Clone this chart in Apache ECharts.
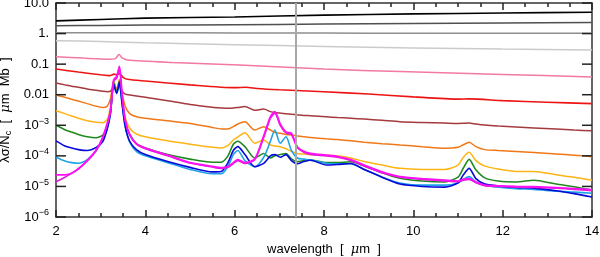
<!DOCTYPE html>
<html><head><meta charset="utf-8">
<script src="https://cdn.jsdelivr.net/npm/echarts@6/dist/echarts.min.js"></script>
<style>html,body{margin:0;padding:0;background:#fff}#c{width:600px;height:257px}</style>
</head><body><div id="c"></div>
<script>
// ---- tick labels / tick positions ----
const xTickValues = [2, 4, 6, 8, 10, 12, 14];
const xMinorTickValues = [2.5, 3, 3.5, 4.5, 5, 5.5, 6.5, 7, 7.5, 8.5, 9, 9.5, 10.5, 11, 11.5, 12.5, 13, 13.5];
const yTickValues = [1e-6, 1e-5, 1e-4, 1e-3, 1e-2, 1e-1, 1, 10];
const yTickExponents = [-6, -5, -4, -3, -2, -1, 0, 1];
const yTickLabels = ['10{s|−6}', '10{s|−5}', '10{s|−4}', '10{s|−3}', '0.01', '0.1', '1.', '10.0'];
const xAxisTitle = 'wavelength  [  {mu|μ}m  ]';
const yAxisTitle = 'λσ/N{sub|c}  [  {mu|μ}m  Mb  ]';
const markerWavelength = 7.37;

// ---- top (smooth) curves ----
const wlTop = [2, 3, 4, 6, 8, 10, 12, 14];
const blackVals = [2.6, 2.9, 3.2, 3.5, 4.0, 4.4, 4.7, 5.0];
const dimgrayVals = [1.8, 1.85, 1.9, 1.95, 2.05, 2.15, 2.22, 2.3];
const grayVals = [1.07, 1.06, 1.06, 1.05, 1.04, 1.03, 1.03, 1.02];
const lightgrayVals = [0.585, 0.55, 0.5, 0.43, 0.38, 0.34, 0.31, 0.29];

const wlPink = [2, 2.6, 3.2, 3.33, 3.41, 3.48, 3.6, 4.6, 6.1, 8, 9.7, 12, 14];
const pinkVals = [0.175, 0.158, 0.145, 0.152, 0.205, 0.16, 0.137, 0.114, 0.093, 0.069, 0.057, 0.046, 0.038];

const wlRed = [2, 2.5, 3.0, 3.2, 3.3, 3.36, 3.42, 3.5, 3.6, 4, 5, 6, 6.25, 6.5, 7, 8, 9, 10, 11, 11.25, 12, 13, 14];
const redVals = [0.069, 0.055, 0.045, 0.042, 0.047, 0.045, 0.05, 0.037, 0.032, 0.028, 0.021, 0.017, 0.0175, 0.016, 0.0145, 0.0125, 0.0105, 0.0085, 0.0072, 0.0073, 0.0064, 0.0057, 0.0051];

// ---- lower curves (shared wavelength grid, µm) ----
const wlLow = [2.0, 2.2, 2.35, 2.5, 2.7, 2.9, 3.05, 3.15, 3.22, 3.29, 3.36, 3.42, 3.48, 3.55, 3.65, 3.8, 4.0, 4.5, 5.0, 5.5, 5.7, 5.85, 5.97, 6.07, 6.23, 6.45, 6.65, 6.8, 6.9, 7.02, 7.15, 7.27, 7.4, 7.55, 7.7, 8.05, 8.3, 8.6, 8.9, 9.3, 9.7, 10.2, 10.7, 11.0, 11.12, 11.25, 11.4, 11.6, 11.9, 12.3, 12.7, 13.2, 13.6, 14.0];

const brownVals = [0.024, 0.021, 0.019, 0.0175, 0.0155, 0.014, 0.013, 0.0126, 0.013, 0.018, 0.016, 0.02, 0.013, 0.0105, 0.0098, 0.009, 0.0082, 0.0064, 0.0048, 0.0039, 0.0037, 0.0036, 0.00365, 0.0038, 0.0041, 0.0031, 0.0034, 0.0028, 0.0026, 0.0025, 0.0024, 0.0023, 0.0022, 0.0021, 0.00205, 0.0019, 0.0018, 0.0017, 0.0016, 0.00145, 0.0013, 0.00123, 0.00118, 0.00115, 0.00116, 0.00118, 0.0011, 0.00102, 0.00095, 0.00088, 0.00082, 0.00075, 0.0007, 0.00066];

const orangeVals = [0.0098, 0.0082, 0.0071, 0.0062, 0.0051, 0.0042, 0.0038, 0.0043, 0.0075, 0.028, 0.014, 0.032, 0.011, 0.0042, 0.0024, 0.0019, 0.0017, 0.0014, 0.00115, 0.00085, 0.00076, 0.00076, 0.0009, 0.0011, 0.0013, 0.0007, 0.0009, 0.0007, 0.00058, 0.00055, 0.0005, 0.00048, 0.00045, 0.00042, 0.0004, 0.00036, 0.00034, 0.00031, 0.00028, 0.00025, 0.000226, 0.0002, 0.000178, 0.00019, 0.00023, 0.00028, 0.0002, 0.00016, 0.00015, 0.00014, 0.000128, 0.000115, 0.000105, 0.000094];

const yellowVals = [0.003, 0.0024, 0.002, 0.0017, 0.0014, 0.00125, 0.00122, 0.0016, 0.004, 0.025, 0.013, 0.03, 0.008, 0.0018, 0.0008, 0.00052, 0.00042, 0.00031, 0.00024, 0.00019, 0.00018, 0.00022, 0.00033, 0.00042, 0.00057, 0.00026, 0.00033, 0.00023, 0.00021, 0.0002, 0.00017, 0.00014, 0.00012, 0.000115, 0.00011, 0.000105, 0.0001, 0.000085, 0.000065, 0.00005, 0.000039, 0.000036, 0.000036, 0.00005, 0.00009, 0.00013, 0.00007, 0.000046, 0.000037, 0.000031, 0.000031, 0.000024, 0.00002, 0.000016];

const greenVals = [0.001, 0.00072, 0.0006, 0.0005, 0.00042, 0.00039, 0.00048, 0.0009, 0.003, 0.025, 0.012, 0.028, 0.006, 0.0012, 0.0005, 0.00025, 0.00018, 0.00011, 0.000078, 0.000062, 0.000062, 0.0001, 0.00024, 0.0003, 0.0002, 0.000085, 0.00012, 0.000085, 0.0001, 0.00011, 0.00012, 0.00008, 0.000065, 0.00007, 0.000073, 0.00006, 0.00006, 0.000064, 0.000047, 0.000028, 0.0000185, 0.000015, 0.000014, 0.00002, 0.00004, 0.000077, 0.000035, 0.000019, 0.000015, 0.000014, 0.000016, 0.000012, 0.0000098, 0.0000076];

const blueVals = [0.00031, 0.00021, 0.00018, 0.00016, 0.00015, 0.00019, 0.0003, 0.0008, 0.0025, 0.022, 0.011, 0.025, 0.005, 0.0009, 0.0003, 0.00016, 0.00011, 0.000065, 0.000042, 0.00003, 0.000031, 0.00006, 0.00015, 0.0002, 0.00011, 0.000044, 0.000057, 0.0001, 0.00011, 0.00009, 0.00011, 0.00007, 0.000055, 0.000065, 0.000072, 0.00005, 0.000052, 0.000056, 0.000036, 0.00002, 0.000012, 0.00001, 0.0000095, 0.000013, 0.000024, 0.000039, 0.000018, 0.000012, 0.0000105, 0.0000092, 0.0000088, 0.0000072, 0.0000058, 0.0000045];

const lightblueVals = [0.00009, 0.000068, 0.00006, 0.000057, 0.000075, 0.00015, 0.00035, 0.0008, 0.0025, 0.02, 0.012, 0.022, 0.005, 0.0009, 0.00028, 0.00014, 0.0001, 0.00006, 0.000036, 0.000026, 0.000026, 0.000045, 0.00011, 0.00015, 0.00007, 0.000044, 0.00009, 0.0003, 0.0007, 0.00026, 0.00042, 0.00015, 0.000085, 0.000078, 0.000073, 0.000057, 0.000055, 0.000055, 0.000036, 0.00002, 0.000013, 0.000011, 0.000011, 0.000013, 0.000017, 0.000021, 0.000014, 0.000011, 0.0000095, 0.0000085, 0.000008, 0.000007, 0.0000065, 0.000006];

const magentaVals = [0.000024, 0.000024, 0.000027, 0.000038, 0.00007, 0.000155, 0.00042, 0.0012, 0.003, 0.03, 0.04, 0.085, 0.01, 0.0015, 0.0005, 0.00025, 0.00018, 0.000105, 0.00006, 0.000045, 0.000041, 0.000045, 0.00006, 0.000075, 0.00006, 0.00008, 0.00045, 0.0019, 0.0028, 0.0011, 0.0006, 0.00055, 0.0002, 0.00014, 0.00012, 0.000105, 0.000095, 0.000075, 0.00005, 0.00003, 0.000021, 0.000018, 0.000016, 0.000015, 0.000017, 0.000018, 0.000014, 0.000011, 0.0000105, 0.00001, 0.0000098, 0.0000092, 0.0000085, 0.0000078];

const violetVals = [0.0000143, 0.00002, 0.000027, 0.000037, 0.000068, 0.00015, 0.0004, 0.0011, 0.0028, 0.028, 0.035, 0.075, 0.009, 0.0014, 0.00048, 0.00024, 0.00017, 0.0001, 0.000058, 0.000043, 0.000039, 0.000042, 0.000056, 0.00007, 0.000056, 0.000075, 0.0004, 0.0017, 0.0025, 0.001, 0.00056, 0.0005, 0.00019, 0.00013, 0.000112, 0.0001, 0.00009, 0.00007, 0.000047, 0.000028, 0.00002, 0.000017, 0.0000152, 0.0000143, 0.000016, 0.000017, 0.0000133, 0.0000105, 0.00001, 0.0000095, 0.0000093, 0.0000087, 0.000008, 0.0000072];

const seriesDefs = [
  ['black', wlTop, blackVals, '#000000', 1.6],
  ['dimgray', wlTop, dimgrayVals, '#505050', 1.5],
  ['gray', wlTop, grayVals, '#8e8e8e', 1.5],
  ['lightgray', wlTop, lightgrayVals, '#cbcbcb', 1.5],
  ['pink', wlPink, pinkVals, '#f27aa0', 1.5],
  ['red', wlRed, redVals, '#ee1414', 1.6],
  ['brown', wlLow, brownVals, '#a53a3e', 1.5],
  ['orange', wlLow, orangeVals, '#f07818', 1.5],
  ['yellow', wlLow, yellowVals, '#fdb415', 1.5],
  ['green', wlLow, greenVals, '#1f881f', 1.6],
  ['lightblue', wlLow, lightblueVals, '#1ea2ea', 1.6],
  ['blue', wlLow, blueVals, '#0808d8', 1.6],
  ['violet', wlLow, violetVals, '#e01ad8', 1.6],
  ['magenta', wlLow, magentaVals, '#ff10f4', 1.8]
];

const series = seriesDefs.map(([name, wl, vals, color, w]) => ({
  name, type: 'line', showSymbol: false, smooth: 0.25, silent: true,
  xAxisIndex: 0, yAxisIndex: 0,
  data: wl.map((x, i) => [x, vals[i]]),
  lineStyle: { color, width: w }
}));
series.push({
  type: 'line', data: [], silent: true, xAxisIndex: 0, yAxisIndex: 0,
  markLine: { symbol: 'none', silent: true, label: { show: false },
    lineStyle: { color: '#a8a8a8', width: 2, type: 'solid' },
    data: [{ xAxis: markerWavelength }] }
});
series.push({ type: 'line', data: [], xAxisIndex: 1, yAxisIndex: 1, silent: true });

// ---- frame ticks on the x edges, as markLine segments in data space (log decades) ----
const yMin = yTickValues[0], yMax = yTickValues[yTickValues.length - 1];
const majorTickDecades = 0.23, minorTickDecades = 0.13;
function xTickSegments(values, dec) {
  const out = [];
  values.forEach(v => {
    out.push([{ coord: [v, yMin] }, { coord: [v, yMin * Math.pow(10, dec)] }]);
    out.push([{ coord: [v, yMax] }, { coord: [v, yMax / Math.pow(10, dec)] }]);
  });
  return out;
}
series.push({
  type: 'line', data: [], silent: true, xAxisIndex: 0, yAxisIndex: 0, z: 6,
  markLine: { symbol: 'none', silent: true, label: { show: false }, animation: false,
    lineStyle: { color: '#222', width: 1.5, type: 'solid' },
    data: xTickSegments(xTickValues, majorTickDecades).concat(xTickSegments(xMinorTickValues, minorTickDecades)) }
});

// ---- frame ticks on the y edges ----
const tickStroke = { stroke: '#222', lineWidth: 1.5 };
series.push({
  type: 'custom', silent: true, clip: false, z: 5, xAxisIndex: 0, yAxisIndex: 0,
  encode: { x: 0, y: 1 },
  data: yTickValues.map(v => [2, v]),
  renderItem: (params, api) => {
    const l = api.coord([2, api.value(1)]);
    const r = api.coord([14, api.value(1)]);
    return { type: 'group', children: [
      { type: 'line', shape: { x1: l[0], y1: l[1], x2: l[0] + 10, y2: l[1] }, style: tickStroke },
      { type: 'line', shape: { x1: r[0], y1: r[1], x2: r[0] - 10, y2: r[1] }, style: tickStroke }
    ] };
  }
});

const font = 'Liberation Sans, Arial, sans-serif';
const frameLine = { show: true, onZero: false, lineStyle: { color: '#333', width: 1.5 } };

const xBottom = {
  type: 'value', min: 2, max: 14, interval: 2, position: 'bottom',
  axisLine: frameLine, splitLine: { show: false },
  axisTick: { show: false },
  axisLabel: { show: true, fontFamily: font, fontSize: 13, color: '#000', margin: 8,
    formatter: v => (xTickValues.indexOf(v) >= 0 ? String(v) : '') },
  name: xAxisTitle, nameLocation: 'middle', nameGap: 26,
  nameTextStyle: { fontFamily: font, fontSize: 13, color: '#000',
    rich: { mu: { fontFamily: 'DejaVu Serif', fontStyle: 'italic', fontSize: 13, color: '#000' } } }
};
const xTop = {
  type: 'value', min: 2, max: 14, interval: 2, position: 'top',
  axisLine: frameLine, splitLine: { show: false },
  axisTick: { show: false },
  axisLabel: { show: false }
};
function yAx(pos, labels) {
  return {
    type: 'log', logBase: 10, min: 1e-6, max: 10, position: pos,
    axisLine: frameLine, splitLine: { show: false }, axisTick: { show: false },
    axisLabel: labels ? { show: true, fontFamily: font, fontSize: 13, color: '#000', margin: 7,
      formatter: v => { const e = Math.round(Math.log10(v)); const k = yTickExponents.indexOf(e); return k >= 0 ? yTickLabels[k] : ''; },
      rich: { s: { fontFamily: font, fontSize: 9, color: '#000', padding: [0, 0, 8, 0] } } } : { show: false }
  };
}
const yLeft = Object.assign(yAx('left', true), {
  name: yAxisTitle, nameLocation: 'middle', nameRotate: 90, nameGap: 38,
  nameTextStyle: { fontFamily: font, fontSize: 13, color: '#000',
    rich: { sub: { fontFamily: font, fontSize: 9, color: '#000', padding: [6, 0, 0, 0] },
            mu: { fontFamily: 'DejaVu Serif', fontStyle: 'italic', fontSize: 13, color: '#000' } } }
});

const chart = echarts.init(document.getElementById('c'), null, { renderer: 'canvas' });
chart.setOption({
  animation: false,
  backgroundColor: '#fff',
  grid: { left: 56, right: 8, top: 3, bottom: 40, containLabel: false, outerBoundsMode: 'none' },
  xAxis: [xBottom, xTop],
  yAxis: [yLeft, yAx('right', false)],
  series
});
</script>
</body></html>
